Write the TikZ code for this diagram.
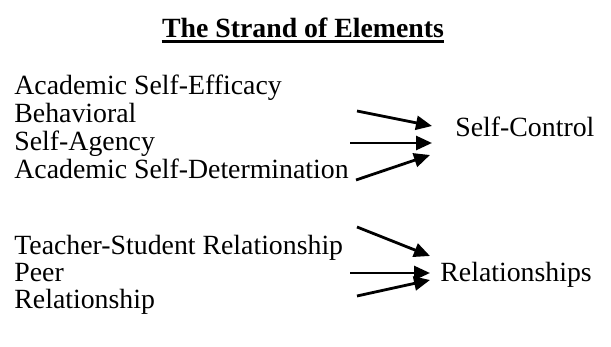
\documentclass[tikz,border=0pt]{standalone}
\usepackage{fontspec}
\setmainfont{Liberation Serif}
\usetikzlibrary{arrows.meta}
\tikzset{
    item/.style={anchor=base west,inner sep=0pt,font=\fontsize{13.9}{14}\selectfont},
    heading/.style={anchor=base,inner sep=0pt,font=\fontsize{13.9}{14}\selectfont\bfseries},
    link/.style={-{Triangle[length=8pt,width=7pt]},line width=1.4pt},
}
\begin{document}
\begin{tikzpicture}[x=0.5pt,y=-0.5pt]
  \useasboundingbox (0,0) rectangle (611,347);
  \node[heading] (title) at (303,38) {The Strand of Elements};
  \draw[line width=1.1pt] ([yshift=-1.8pt]title.base west) -- ([yshift=-1.8pt]title.base east);
  \node[item] (efficacy) at (14,95) {Academic Self-Efficacy};
  \node[item] (behav) at (14,123) {Behavioral};
  \node[item] (agency) at (14,151) {Self-Agency};
  \node[item] (determ) at (14,179) {Academic Self-Determination};
  \node[item] (control) at (455,137) {Self-Control};
  \node[item] (teacher) at (14,255) {Teacher-Student Relationship};
  \node[item] (peer) at (14,282) {Peer};
  \node[item] (rel) at (14,309) {Relationship};
  \node[item] (relships) at (440,282) {Relationships};
  \coordinate (s1) at (357,111);
  \coordinate (e1) at (432,126);
  \coordinate (s2) at (350,143);
  \coordinate (e2) at (432,143);
  \coordinate (s3) at (356,180);
  \coordinate (e3) at (430,155);
  \coordinate (t1) at (357,227);
  \coordinate (f1) at (430,256);
  \coordinate (t2) at (350,273);
  \coordinate (f2) at (430,273);
  \coordinate (t3) at (357,296);
  \coordinate (f3) at (430,280);
  \draw[link] (s1) -- (e1);
  \draw[link] (s2) -- (e2);
  \draw[link] (s3) -- (e3);
  \draw[link] (t1) -- (f1);
  \draw[link] (t2) -- (f2);
  \draw[link] (t3) -- (f3);
\end{tikzpicture}
\end{document}
